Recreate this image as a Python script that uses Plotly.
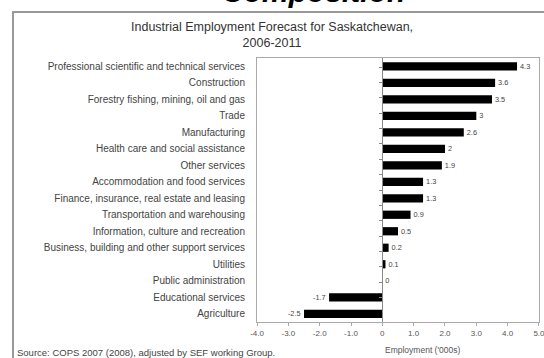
import plotly.graph_objects as go

categories = [
    "Professional scientific and technical services",
    "Construction",
    "Forestry fishing, mining, oil and gas",
    "Trade",
    "Manufacturing",
    "Health care and social assistance",
    "Other services",
    "Accommodation and food services",
    "Finance, insurance, real estate and leasing",
    "Transportation and warehousing",
    "Information, culture and recreation",
    "Business, building and other support services",
    "Utilities",
    "Public administration",
    "Educational services",
    "Agriculture",
]
values = [4.3, 3.6, 3.5, 3.0, 2.6, 2.0, 1.9, 1.3, 1.3, 0.9, 0.5, 0.2, 0.1, 0.0, -1.7, -2.5]
x_tickvals = [-4, -3, -2, -1, 0, 1, 2, 3, 4, 5]
x_ticktext = ["-4.0", "-3.0", "-2.0", "-1.0", "0", "1.0", "2.0", "3.0", "4.0", "5.0"]
x_range = [-4.001, 5.001]

FONT = "Liberation Sans, Arial, sans-serif"
W, H = 544, 358
ML, MR, MT, MB = 257, 5, 58, 36
PW = W - ML - MR
PH = H - MT - MB


def px(x):
    return (x - ML) / PW


def py(y):
    return (H - MB - y) / PH


labels = [f"{v:g}" for v in values]

fig = go.Figure()
fig.add_trace(go.Bar(
    x=values, y=categories, orientation="h",
    marker=dict(color="#000000", line=dict(width=0)),
    width=0.5,
    text=labels, textposition="outside",
    textfont=dict(size=8, color="#444444", family=FONT),
    cliponaxis=False, showlegend=False, hoverinfo="skip",
))
fig.add_trace(go.Scatter(
    x=[0] * len(categories), y=categories, yaxis="y2",
    mode="markers", marker=dict(opacity=0), showlegend=False, hoverinfo="skip",
))

zero_pos = (0 - x_range[0]) / (x_range[1] - x_range[0])

fig.update_layout(
    width=W, height=H,
    margin=dict(l=ML, r=MR, t=MT, b=MB, pad=0),
    paper_bgcolor="white", plot_bgcolor="white",
    font=dict(family=FONT, color="#444444"),
    bargap=0.5,
    xaxis=dict(
        range=x_range, tickvals=x_tickvals, ticktext=x_ticktext,
        showgrid=False, zeroline=False, automargin=False,
        ticklabeloverflow="allow",
        showline=True, linecolor="#aaaaaa", linewidth=1, mirror=True,
        ticks="outside", ticklen=3, tickcolor="#aaaaaa",
        tickfont=dict(size=8, color="#555555"),
    ),
    yaxis=dict(
        categoryorder="array", categoryarray=categories, autorange="reversed",
        showgrid=False, zeroline=False,
        showline=True, linecolor="#aaaaaa", linewidth=1, mirror=True,
        ticks="", ticklabelstandoff=9,
        tickfont=dict(size=10, color="#444444"),
    ),
    yaxis2=dict(
        categoryorder="array", categoryarray=categories, autorange="reversed",
        overlaying="y", anchor="free", position=zero_pos, side="left",
        showgrid=False, zeroline=False, showticklabels=False,
        showline=True, linecolor="#888888", linewidth=1,
        ticks="outside", ticklen=3, tickcolor="#888888", tickson="boundaries",
    ),
    shapes=[
        dict(type="rect", xref="paper", yref="paper",
             x0=px(13), x1=px(550), y0=py(12), y1=py(365),
             line=dict(color="#999999", width=2), fillcolor="rgba(0,0,0,0)", layer="below"),
    ],
    annotations=[
        dict(text="<b><i>Composition</i></b>", xref="paper", yref="paper",
             x=px(313), y=py(10), xanchor="center", yanchor="bottom",
             showarrow=False, font=dict(size=30, color="#000000", family=FONT)),
        dict(text="Industrial Employment Forecast for Saskatchewan,<br>2006-2011",
             xref="paper", yref="paper", x=px(272), y=py(35),
             xanchor="center", yanchor="middle", showarrow=False,
             font=dict(size=12.5, color="#333333", family=FONT)),
        dict(text="Employment ('000s)", xref="paper", yref="paper",
             x=px(383), y=py(350), xanchor="left", yanchor="middle",
             showarrow=False, font=dict(size=8.5, color="#555555", family=FONT)),
        dict(text="Source: COPS 2007 (2008), adjusted by SEF working Group.",
             xref="paper", yref="paper", x=px(15), y=py(352),
             xanchor="left", yanchor="middle", showarrow=False,
             font=dict(size=9.5, color="#444444", family=FONT)),
    ],
)

fig.write_html("out.html")
